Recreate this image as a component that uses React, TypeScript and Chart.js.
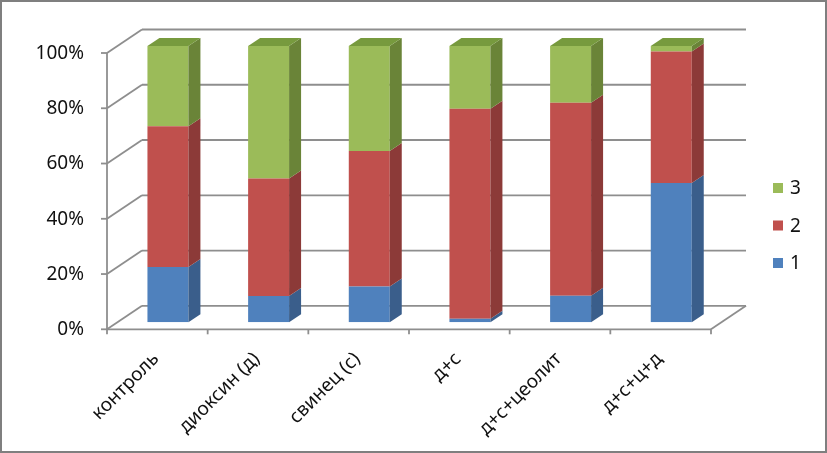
import React, { useEffect, useRef } from "react";
import { Chart, registerables } from "chart.js";

Chart.register(...registerables);

// ---- data ----
const categories = ["контроль", "диоксин (д)", "свинец (с)", "д+с", "д+с+цеолит", "д+с+ц+д"];
const series1 = [20, 9.5, 13, 1.3, 9.6, 50.4];
const series2 = [51, 42.5, 49, 76, 69.9, 47.6];
const series3 = [29, 48, 38, 22.7, 20.5, 2];
const seriesNames = ["1", "2", "3"];
const yTickValues = [0, 20, 40, 60, 80, 100];

// ---- styles ----
const frontColors = ["#4F81BD", "#C0504D", "#9BBB59"];
const sideColors = ["#3A5E8B", "#8C3A38", "#6A8438"];
const topColors = ["#4673AA", "#A8433F", "#779A3E"];
const FONT = '"Noto Sans", "DejaVu Sans", sans-serif';
const GRID = "#8E8E8E";

const FRONT_DX = -10.6;
const FRONT_DY = 7;
const BACK_DX = 24.4;
const BACK_DY = -16.5;
const BAR_DX = 12;
const BAR_DY = 8;

const threeD = {
  id: "threeD",
  beforeDraw(chart: any) {
    const { ctx, width, height } = chart;
    ctx.save();
    ctx.fillStyle = "#ffffff";
    ctx.fillRect(0, 0, width, height);
    ctx.restore();
  },
  beforeDatasetsDraw(chart: any) {
    const { ctx, chartArea, scales } = chart;
    const y = scales.y;
    const x = scales.x;
    const { left, right } = chartArea;
    ctx.save();
    ctx.strokeStyle = GRID;
    ctx.lineWidth = 1.8;
    ctx.lineCap = "butt";
    const line = (x1: number, y1: number, x2: number, y2: number) => {
      ctx.beginPath();
      ctx.moveTo(x1, y1);
      ctx.lineTo(x2, y2);
      ctx.stroke();
    };
    y.ticks.forEach((t: any) => {
      const py = y.getPixelForValue(t.value);
      // left wall diagonal
      line(left + FRONT_DX, py + FRONT_DY, left + BACK_DX, py + BACK_DY);
      // back wall gridline
      line(left + BACK_DX, py + BACK_DY, right + BACK_DX, py + BACK_DY);
      // tick mark on front axis
      line(left + FRONT_DX - 6, py + FRONT_DY, left + FRONT_DX, py + FRONT_DY);
    });
    const y0 = y.getPixelForValue(y.min);
    const y1 = y.getPixelForValue(y.max);
    // vertical axis
    line(left + FRONT_DX, y0 + FRONT_DY, left + FRONT_DX, y1 + FRONT_DY);
    // floor
    line(left + FRONT_DX, y0 + FRONT_DY, right + FRONT_DX, y0 + FRONT_DY);
    line(right + FRONT_DX, y0 + FRONT_DY, right + BACK_DX, y0 + BACK_DY);
    // category boundary ticks
    const n = categories.length;
    const w = (right - left) / n;
    for (let i = 0; i < n; i++) {
      const cx = x.getPixelForValue(i) - w / 2 + FRONT_DX;
      line(cx, y0 + FRONT_DY, cx, y0 + FRONT_DY + 5);
    }
    line(x.getPixelForValue(n - 1) + w / 2 + FRONT_DX, y0 + FRONT_DY, x.getPixelForValue(n - 1) + w / 2 + FRONT_DX, y0 + FRONT_DY + 5);
    ctx.restore();
  },
  afterDatasetsDraw(chart: any) {
    const { ctx } = chart;
    const nSets = chart.data.datasets.length;
    ctx.save();
    const n = categories.length;
    for (let i = 0; i < n; i++) {
      let topIdx = -1;
      for (let d = 0; d < nSets; d++) {
        const meta = chart.getDatasetMeta(d);
        const el: any = meta.data[i];
        if (!el) continue;
        const v = chart.data.datasets[d].data[i];
        if (v > 0) topIdx = d;
        const half = el.width / 2;
        const r = el.x + half;
        const top = Math.min(el.y, el.base);
        const bot = Math.max(el.y, el.base);
        ctx.fillStyle = sideColors[d];
        ctx.beginPath();
        ctx.moveTo(r, top);
        ctx.lineTo(r + BAR_DX, top - BAR_DY);
        ctx.lineTo(r + BAR_DX, bot - BAR_DY);
        ctx.lineTo(r, bot);
        ctx.closePath();
        ctx.fill();
      }
      if (topIdx >= 0) {
        const el: any = chart.getDatasetMeta(topIdx).data[i];
        const half = el.width / 2;
        const l = el.x - half;
        const r = el.x + half;
        const top = Math.min(el.y, el.base);
        ctx.fillStyle = topColors[topIdx];
        ctx.beginPath();
        ctx.moveTo(l, top);
        ctx.lineTo(l + BAR_DX, top - BAR_DY);
        ctx.lineTo(r + BAR_DX, top - BAR_DY);
        ctx.lineTo(r, top);
        ctx.closePath();
        ctx.fill();
      }
    }
    ctx.restore();
  },
  afterDraw(chart: any) {
    const { ctx, width, height } = chart;
    ctx.save();
    // legend (reverse order)
    const ds = chart.data.datasets;
    ctx.font = `19px ${FONT}`;
    ctx.textBaseline = "middle";
    ctx.textAlign = "left";
    for (let k = 0; k < ds.length; k++) {
      const d = ds.length - 1 - k;
      const cy = 188 + k * 37.5;
      ctx.fillStyle = ds[d].backgroundColor;
      ctx.fillRect(773, cy - 5, 10, 10);
      ctx.fillStyle = "#111111";
      ctx.fillText(ds[d].label, 790, cy + 1);
    }
    // frame
    ctx.strokeStyle = "#7F7F7F";
    ctx.lineWidth = 2;
    ctx.strokeRect(1, 1, width - 2, height - 2);
    ctx.restore();
  },
};

export default function App() {
  const ref = useRef<HTMLCanvasElement | null>(null);
  useEffect(() => {
    const canvas = ref.current;
    if (!canvas) return;
    const seriesData = [series1, series2, series3];
    const chart = new Chart(canvas, {
      type: "bar",
      data: {
        labels: categories,
        datasets: seriesData.map((s, i) => ({
          label: seriesNames[i],
          data: s,
          backgroundColor: frontColors[i],
          borderWidth: 0,
          barPercentage: 0.407,
          categoryPercentage: 1,
        })),
      },
      options: {
        animation: false,
        responsive: false,
        devicePixelRatio: 1,
        layout: { padding: { top: 46, right: 105.4, left: 0, bottom: 0 } },
        plugins: { legend: { display: false }, tooltip: { enabled: false } },
        scales: {
          x: {
            stacked: true,
            grid: { display: false, drawTicks: false },
            border: { display: false },
            ticks: {
              autoSkip: false,
              minRotation: 45,
              maxRotation: 45,
              padding: 25.6,
              labelOffset: -12,
              color: "#111111",
              font: { family: FONT, size: 19 },
            },
            afterFit: (s: any) => {
              s.height = 130.7;
            },
          },
          y: {
            stacked: true,
            min: 0,
            max: 100,
            grid: { display: false, drawTicks: false },
            border: { display: false },
            afterBuildTicks: (s: any) => {
              s.ticks = yTickValues.map((v) => ({ value: v }));
            },
            ticks: {
              padding: 33.6,
              labelOffset: 7.5,
              color: "#111111",
              font: { family: FONT, size: 19 },
              callback: (v: any) => `${v}%`,
            },
            afterFit: (s: any) => {
              s.width = 117.6;
            },
          },
        },
      },
      plugins: [threeD],
    } as any);
    return () => chart.destroy();
  }, []);
  return (
    <div style={{ position: "fixed", left: 0, top: 0, width: 827, height: 453 }}>
      <canvas ref={ref} width={827} height={453} style={{ display: "block" }} />
    </div>
  );
}
